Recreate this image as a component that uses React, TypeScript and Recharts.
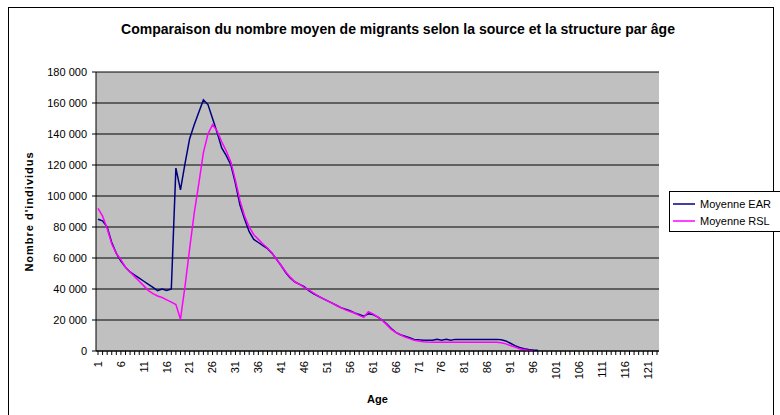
import React from 'react';
import { LineChart, Line, XAxis, YAxis, CartesianGrid, Label } from 'recharts';

const ages: number[] = Array.from({ length: 123 }, (_, i) => i + 1);

const moyenneEAR: (number | null)[] = [
  85000, 84000, 80000, 70000, 63000, 58000, 54000, 51000, 49000, 47000,
  45000, 43000, 41000, 39000, 40000, 39000, 40000, 118000, 104000, 121000,
  137000, 146000, 154000, 162000, 159000, 150000, 141000, 131000, 126000, 120000,
  108000, 94000, 85000, 77000, 72000, 70000, 68000, 66000, 63000, 59000,
  55000, 50500, 47000, 44500, 43000, 41500, 39000, 37000, 35500, 34000,
  32500, 31000, 29500, 28000, 27000, 26000, 24500, 23500, 22500, 24000,
  23500, 22000, 20000, 17500, 14500, 12000, 10500, 9500, 8500, 7500,
  7200, 7000, 7000, 7000, 7500, 7000, 7500, 7000, 7500, 7500,
  7500, 7500, 7500, 7500, 7500, 7500, 7500, 7500, 7200, 6500,
  5000, 3500, 2300, 1400, 900, 600, 500,
];

const moyenneRSL: (number | null)[] = [
  92000, 87000, 79000, 69000, 63000, 59000, 54000, 51000, 48000, 45000,
  42000, 39000, 37000, 35500, 34500, 33000, 31500, 30000, 20500, 42000,
  66000, 89000, 108000, 128000, 140000, 146000, 142000, 135000, 129000, 122000,
  110000, 97000, 87000, 80000, 75000, 72000, 69000, 66500, 63000, 59000,
  55000, 51000, 47500, 44500, 43000, 41000, 39500, 37500, 35500, 34000,
  32500, 31000, 29500, 28000, 26500, 25500, 24500, 23000, 21700, 25400,
  24000, 22000, 20000, 17000, 14000, 12000, 10500, 9000, 8000, 7000,
  6500, 6000, 5800, 5700, 5700, 5700, 5700, 5700, 5700, 5700,
  5700, 5700, 5700, 5700, 5700, 5700, 5700, 5700, 5300, 4600,
  3500, 2500, 1500, 800, 400, 300,
];

const yTicks: number[] = [0, 20000, 40000, 60000, 80000, 100000, 120000, 140000, 160000, 180000];

const seriesNames = { ear: 'Moyenne EAR', rsl: 'Moyenne RSL' };
const seriesColors = { ear: '#000080', rsl: '#FF00FF' };
const titleText = 'Comparaison du nombre moyen de migrants selon la source et la structure par âge';
const yLabelText = "Nombre d'individus";
const xLabelText = 'Age';

const data = ages.map((age, i) => ({
  age,
  ear: i < moyenneEAR.length ? moyenneEAR[i] : null,
  rsl: i < moyenneRSL.length ? moyenneRSL[i] : null,
}));

const FONT = '"Liberation Sans", Arial, sans-serif';

const fmt = (v: number) => String(v).replace(/\B(?=(\d{3})+(?!\d))/g, ' ');

const XTick = (props: any) => {
  const { x, y, payload } = props;
  const v = payload.value as number;
  const showLabel = (v - 1) % 5 === 0;
  return (
    <g>
      <line x1={x} x2={x} y1={y - 7} y2={y - 3} stroke="#000" strokeWidth={1} />
      {showLabel && (
        <text
          x={x}
          y={y + 3}
          dy="0.35em"
          transform={`rotate(-90, ${x}, ${y + 3})`}
          textAnchor="end"
          fontSize={11}
          fontFamily={FONT}
          fill="#000"
        >
          {v}
        </text>
      )}
    </g>
  );
};

const LegendBox = () => (
  <div
    style={{
      position: 'absolute',
      left: 669,
      top: 191,
      border: '1px solid #000',
      background: '#fff',
      width: 118,
      height: 41,
      boxSizing: 'border-box',
      fontFamily: FONT,
      fontSize: 11,
      color: '#000',
      padding: '3px 0 0 3px',
    }}
  >
    {(['ear', 'rsl'] as const).map((k) => (
      <div key={k} style={{ display: 'flex', alignItems: 'center', height: 17 }}>
        <svg width={24} height={4} style={{ marginRight: 3 }}>
          <line x1={0} x2={22} y1={2} y2={2} stroke={seriesColors[k]} strokeWidth={1.5} />
        </svg>
        <span>{seriesNames[k]}</span>
      </div>
    ))}
  </div>
);

export default function App() {
  return (
    <div
      style={{
        position: 'absolute',
        left: 0,
        top: 0,
        width: 780,
        height: 415,
        overflow: 'hidden',
        background: '#fff',
      }}
    >
      <div
        style={{
          position: 'absolute',
          left: 8,
          top: 7,
          width: 766,
          height: 440,
          border: '1px solid #000',
          boxSizing: 'border-box',
        }}
      />
      <div
        style={{
          position: 'absolute',
          left: 0,
          top: 20,
          width: 796,
          textAlign: 'center',
          fontFamily: FONT,
          fontWeight: 'bold',
          fontSize: 14,
          color: '#000',
          lineHeight: '18px',
        }}
      >
        {titleText}
      </div>
      <div style={{ position: 'absolute', left: 0, top: 0 }}>
        <LineChart
          width={780}
          height={415}
          data={data}
          margin={{ top: 72, right: 121, left: 0, bottom: 0 }}
        >
          <CartesianGrid vertical={false} stroke="#000" strokeOpacity={1} fill="#C0C0C0" fillOpacity={1} />
          <XAxis
            dataKey="age"
            type="category"
            interval={0}
            height={64}
            padding={{ left: 2, right: 2 }}
            tickLine={false}
            tickSize={4}
            tickMargin={3}
            tick={<XTick />}
            axisLine={{ stroke: '#000' }}
          >
            <Label
              value={xLabelText}
              position="insideBottom"
              offset={12}
              style={{ fontFamily: FONT, fontWeight: 'bold', fontSize: 11, fill: '#000' }}
            />
          </XAxis>
          <XAxis
            xAxisId="top"
            orientation="top"
            dataKey="age"
            height={0}
            tick={false}
            tickLine={false}
            axisLine={{ stroke: '#808080' }}
          />
          <YAxis
            domain={[0, 180000]}
            ticks={yTicks}
            interval={0}
            width={96}
            tickSize={4}
            tickMargin={5}
            tickFormatter={fmt}
            tick={{ fontFamily: FONT, fontSize: 11, fill: '#000' }}
            tickLine={{ stroke: '#000' }}
            axisLine={{ stroke: '#000' }}
          >
            <Label
              content={(p: any) => {
                const vb = p.viewBox || {};
                const cx = (vb.x ?? 0) + 33;
                const cy = (vb.y ?? 0) + (vb.height ?? 0) / 2;
                return (
                  <text
                    x={cx}
                    y={cy}
                    transform={`rotate(-90, ${cx}, ${cy})`}
                    textAnchor="middle"
                    fontFamily={FONT}
                    fontWeight="bold"
                    fontSize={11}
                    letterSpacing={1}
                    fill="#000"
                  >
                    {yLabelText}
                  </text>
                );
              }}
            />
          </YAxis>
          <YAxis
            yAxisId="right"
            orientation="right"
            width={0}
            tick={false}
            tickLine={false}
            axisLine={{ stroke: '#808080' }}
          />
          <Line
            type="linear"
            dataKey="ear"
            name={seriesNames.ear}
            stroke={seriesColors.ear}
            strokeWidth={1.5}
            dot={false}
            activeDot={false}
            connectNulls={false}
            isAnimationActive={false}
          />
          <Line
            type="linear"
            dataKey="rsl"
            name={seriesNames.rsl}
            stroke={seriesColors.rsl}
            strokeWidth={1.5}
            dot={false}
            activeDot={false}
            connectNulls={false}
            isAnimationActive={false}
          />
        </LineChart>
      </div>
      <LegendBox />
    </div>
  );
}
